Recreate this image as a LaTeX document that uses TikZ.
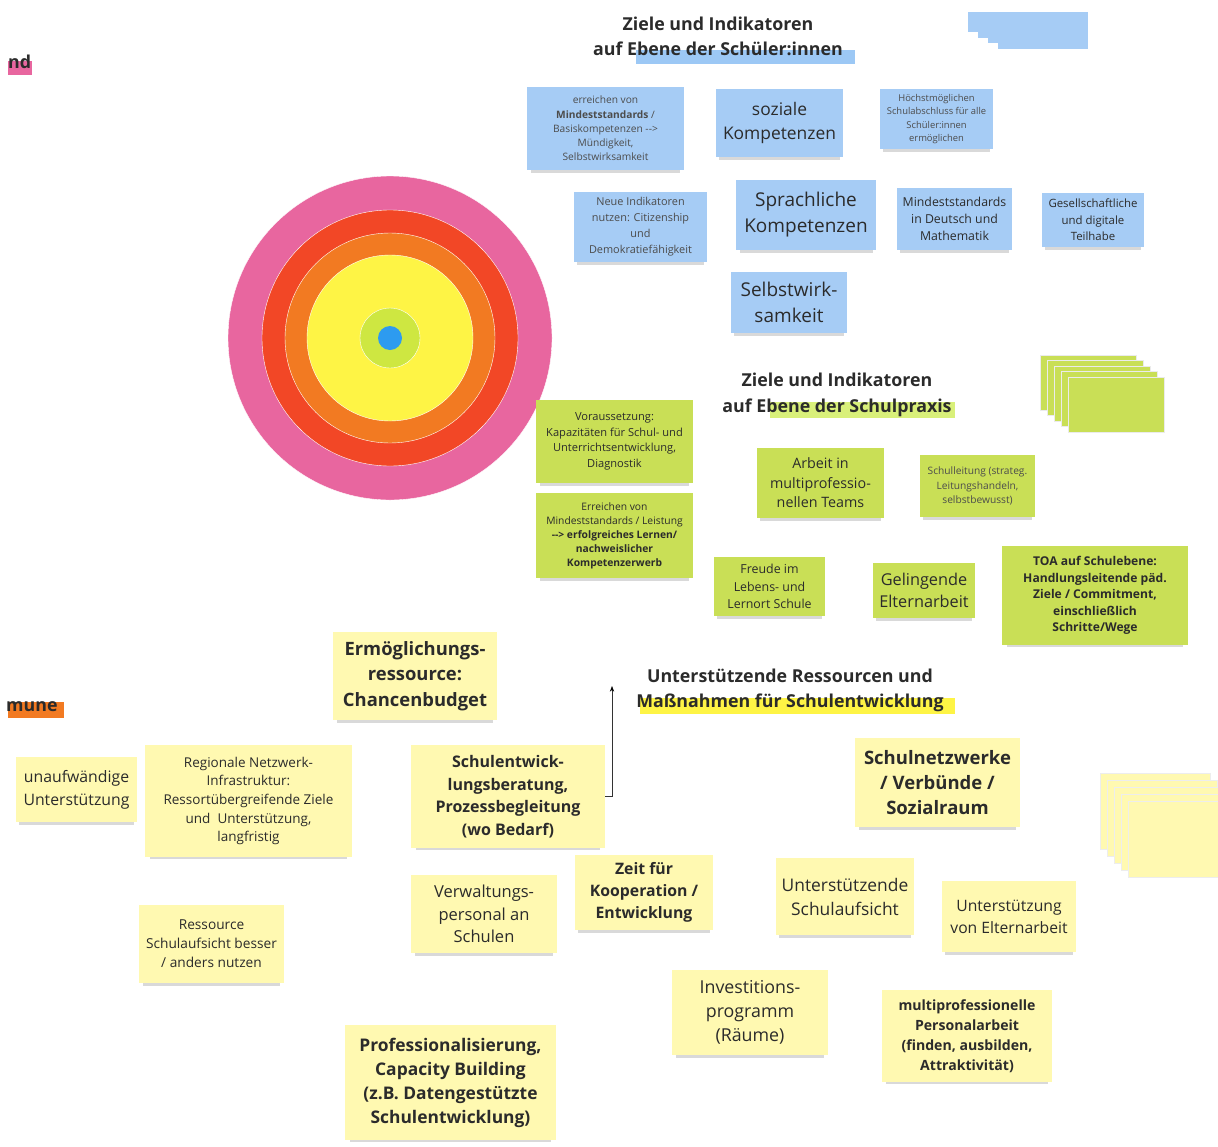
\documentclass[tikz,border=0pt]{standalone}
\usepackage{fontspec}
\setmainfont{Open Sans}
\usepackage{tikz}
\usetikzlibrary{arrows.meta, shadows}
\definecolor{ringpink}{HTML}{E8669F}
\definecolor{ringred}{HTML}{F24726}
\definecolor{ringorange}{HTML}{F27A22}
\definecolor{ringyellow}{HTML}{FEF445}
\definecolor{ringlime}{HTML}{CEE741}
\definecolor{ringblue}{HTML}{2D9BF0}
\definecolor{noteblue}{HTML}{A6CCF5}
\definecolor{notegreen}{HTML}{C9DF56}
\definecolor{noteyellow}{HTML}{FFF9B1}
\definecolor{hlblue}{HTML}{9CC8F5}
\definecolor{hlgreen}{HTML}{D9F07A}
\definecolor{hlyellow}{HTML}{FEF445}
\definecolor{inktext}{HTML}{2B2B2B}
\newcommand{\notefont}[2]{\fontsize{#1pt}{#2pt}\selectfont}

\begin{document}
\begin{tikzpicture}[x=1pt,y=-1pt]
    \useasboundingbox (0,0) rectangle (1218,1146);

    \begin{scope}[every node/.style={circle,draw=white,thin,inner sep=0pt}]
        \node[fill=ringpink,minimum size=324pt] (pink) at (390,338) {};
        \node[fill=ringred,minimum size=256pt] (red) at (390,338) {};
        \node[fill=ringorange,minimum size=210pt] (orange) at (390,338) {};
        \node[fill=ringyellow,minimum size=166pt] (yellow) at (390,338) {};
        \node[fill=ringlime,minimum size=60pt] (lime) at (390,338) {};
        \node[fill=ringblue,draw=none,minimum size=24pt] (dot) at (390,338) {};
    \end{scope}

    \fill[ringpink] (8,61) rectangle (32,75);
    \fill[ringorange] (8,702) rectangle (64,718);
    \fill[hlblue] (636,50) rectangle (855,64);
    \fill[hlgreen] (770,402) rectangle (955,418);
    \fill[hlyellow] (640,698) rectangle (955,714);

    \begin{scope}[every node/.style={align=center,text=inktext,inner sep=1pt,
        font=\notefont{17.8}{25.5}\bfseries}]
        \node (tschueler) at (718,36.5) {Ziele und Indikatoren\\auf Ebene der Schüler:innen};
        \node (tpraxis) at (837,395) {Ziele und Indikatoren\\auf Ebene der Schulpraxis};
        \node (tressourcen) at (790,690.5) {Unterstützende Ressourcen und\\Maßnahmen für Schulentwicklung};
        \node[anchor=west,inner sep=0pt] (tand) at (8,62) {nd};
        \node[anchor=west,inner sep=0pt] (tkommune) at (6,707) {mune};
    \end{scope}

    \foreach \i in {0,...,3}
        \fill[noteblue] (968+10*\i,12) rectangle (1088,32+5.5*\i);
    \foreach \i in {0,...,4}
        \fill[notegreen,draw=black!8] (1040+7*\i,355+5.5*\i) rectangle (1136+7*\i,410+5.5*\i);
    \foreach \i in {0,...,4}
        \fill[noteyellow,draw=black!7] (1100+7*\i,773+7*\i) rectangle (1210+7*\i,849+7*\i);

    \begin{scope}[every node/.style={rectangle,fill=noteblue,align=center,text=inktext,
        drop shadow={shadow xshift=0pt,shadow yshift=-5pt,shadow scale=0.95,opacity=0.3}}]
        \node[minimum width=157pt,minimum height=83pt,font=\notefont{10.2}{14.3},text=black!70] (basis) at (605.5,128.5)
            {erreichen von\\\textbf{Mindeststandards} /\\Basiskompetenzen -{}->\\Mündigkeit,\\Selbstwirksamkeit};
        \node[minimum width=127pt,minimum height=68pt,font=\notefont{17.4}{24}] (sozial) at (779.5,123)
            {soziale\\Kompetenzen};
        \node[minimum width=113pt,minimum height=60pt,font=\notefont{9.4}{13.3},text=black!70] (abschluss) at (936.5,119)
            {Höchstmöglichen\\Schulabschluss für alle\\Schüler:innen\\ermöglichen};
        \node[minimum width=133pt,minimum height=70pt,font=\notefont{10.9}{16},text=black!70] (citizen) at (640.5,227)
            {Neue Indikatoren\\nutzen: Citizenship\\und\\Demokratiefähigkeit};
        \node[minimum width=140pt,minimum height=70pt,font=\notefont{19}{26}] (sprache) at (806,215)
            {Sprachliche\\Kompetenzen};
        \node[minimum width=115pt,minimum height=62pt,font=\notefont{12.3}{17}] (deutsch) at (954.5,219)
            {Mindeststandards\\in Deutsch und\\Mathematik};
        \node[minimum width=102pt,minimum height=54pt,font=\notefont{11.4}{16.5}] (teilhabe) at (1093,220)
            {Gesellschaftliche\\und digitale\\Teilhabe};
        \node[minimum width=116pt,minimum height=61pt,font=\notefont{19}{26}] (wirk) at (789,302.5)
            {Selbstwirk-\\samkeit};
    \end{scope}

    \begin{scope}[every node/.style={rectangle,fill=notegreen,align=center,text=inktext,
        drop shadow={shadow xshift=0pt,shadow yshift=-5pt,shadow scale=0.95,opacity=0.3}}]
        \node[minimum width=157pt,minimum height=83pt,font=\notefont{11.1}{15.5}] (voraus) at (614.5,441.5)
            {Voraussetzung:\\Kapazitäten für Schul- und\\Unterrichtsentwicklung,\\Diagnostik};
        \node[minimum width=157pt,minimum height=85pt,font=\notefont{10.3}{14}] (lernen) at (614.5,535.5)
            {Erreichen von\\Mindeststandards / Leistung\\\textbf{-{}-> erfolgreiches Lernen/}\\\textbf{nachweislicher}\\\textbf{Kompetenzerwerb}};
        \node[minimum width=127pt,minimum height=70pt,font=\notefont{14.3}{19.5}] (teams) at (820.5,483)
            {Arbeit in\\multiprofessio-\\nellen Teams};
        \node[minimum width=115pt,minimum height=62pt,font=\notefont{10.2}{14.5},text=black!70] (leitung) at (977.5,486)
            {Schulleitung (strateg.\\Leitungshandeln,\\selbstbewusst)};
        \node[minimum width=111pt,minimum height=59pt,font=\notefont{12.4}{17.5}] (freude) at (769.5,586.5)
            {Freude im\\Lebens- und\\Lernort Schule};
        \node[minimum width=102pt,minimum height=55pt,font=\notefont{16.3}{22}] (eltern) at (924,590.5)
            {Gelingende\\Elternarbeit};
        \node[minimum width=186pt,minimum height=99pt,font=\notefont{12.1}{16.5}\bfseries] (toa) at (1095,595.5)
            {TOA auf Schulebene:\\Handlungsleitende päd.\\Ziele / Commitment,\\einschließlich\\Schritte/Wege};
    \end{scope}

    \begin{scope}[every node/.style={rectangle,fill=noteyellow,align=center,text=inktext,
        drop shadow={shadow xshift=0pt,shadow yshift=-5pt,shadow scale=0.95,opacity=0.3}}]
        \node[minimum width=164pt,minimum height=88pt,font=\notefont{18.4}{25.5}\bfseries] (budget) at (415,676)
            {Ermöglichungs-\\ressource:\\Chancenbudget};
        \node[minimum width=121pt,minimum height=65pt,font=\notefont{15.8}{23}] (unaufw) at (76.5,789.5)
            {unaufwändige\\Unterstützung};
        \node[minimum width=207pt,minimum height=112pt,font=\notefont{13.5}{18.7}] (netz) at (248.5,801)
            {Regionale Netzwerk-\\Infrastruktur:\\Ressortübergreifende Ziele\\und~ Unterstützung,\\langfristig};
        \node[minimum width=194pt,minimum height=103pt,font=\notefont{16}{22.5}\bfseries] (beratung) at (508,796.5)
            {Schulentwick-\\lungsberatung,\\Prozessbegleitung\\(wo Bedarf)};
        \node[minimum width=146pt,minimum height=78pt,font=\notefont{16.5}{22.5}] (verwaltung) at (484,914)
            {Verwaltungs-\\personal an\\Schulen};
        \node[minimum width=138pt,minimum height=75pt,font=\notefont{15.8}{22}\bfseries] (zeit) at (644,892.5)
            {Zeit für\\Kooperation /\\Entwicklung};
        \node[minimum width=138pt,minimum height=77pt,font=\notefont{17.4}{24}] (aufsicht) at (845,896.5)
            {Unterstützende\\Schulaufsicht};
        \node[minimum width=134pt,minimum height=71pt,font=\notefont{15.7}{22}] (elternunt) at (1009,916.5)
            {Unterstützung\\von Elternarbeit};
        \node[minimum width=165pt,minimum height=89pt,font=\notefont{18.5}{25}\bfseries] (verbund) at (937.5,782.5)
            {Schulnetzwerke\\/ Verbünde /\\Sozialraum};
        \node[minimum width=145pt,minimum height=78pt,font=\notefont{13.7}{19}] (ressource) at (211.5,944)
            {Ressource\\Schulaufsicht besser\\/ anders nutzen};
        \node[minimum width=156pt,minimum height=85pt,font=\notefont{17.8}{24}] (invest) at (750,1012.5)
            {Investitions-\\programm\\(Räume)};
        \node[minimum width=170pt,minimum height=92pt,font=\notefont{14.1}{20}\bfseries] (personal) at (967,1036)
            {multiprofessionelle\\Personalarbeit\\(finden, ausbilden,\\Attraktivität)};
        \node[minimum width=211pt,minimum height=115pt,font=\notefont{17.4}{24}\bfseries] (capacity) at (450.5,1082.5)
            {Professionalisierung,\\Capacity Building\\(z.B. Datengestützte\\Schulentwicklung)};
    \end{scope}

    \coordinate (up) at (612,686);
    \begin{scope}[>={Stealth[black]}]
        \draw[->,black!80,semithick] (beratung.east) -| (up);
    \end{scope}
\end{tikzpicture}
\end{document}
